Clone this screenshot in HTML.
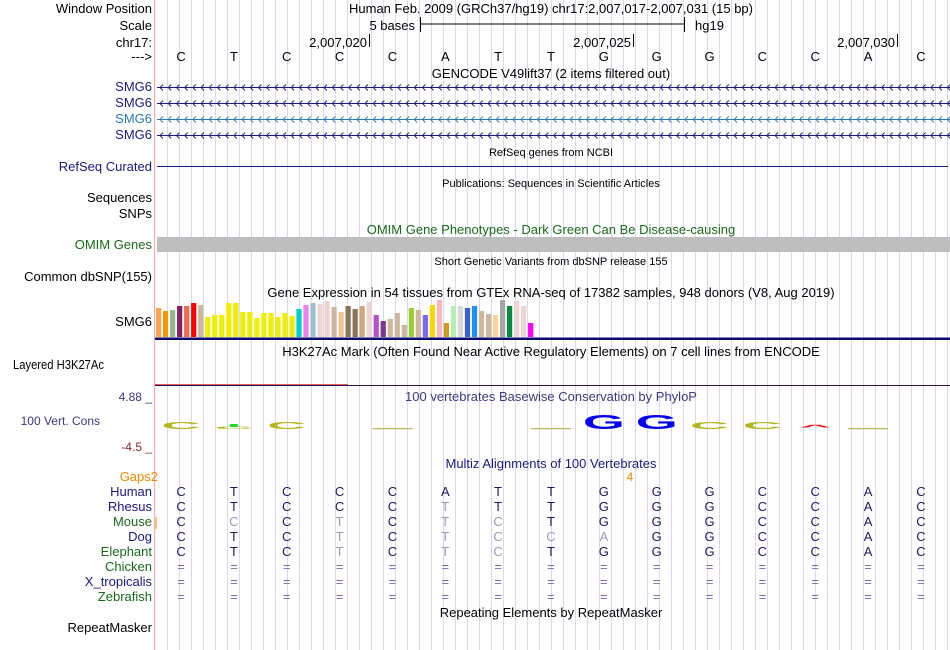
<!DOCTYPE html>
<html><head><meta charset="utf-8"><style>
html,body{margin:0;padding:0;background:#fff;width:950px;height:650px;overflow:hidden}
svg{display:block;font-family:"Liberation Sans",sans-serif}
</style></head><body>
<svg id="ucsc" width="950" height="650" viewBox="0 0 950 650">
<g id="grid"></g>
<line x1="154.5" y1="0" x2="154.5" y2="650" stroke="#ffaaaa"/>
<g font-size="13" text-anchor="end" fill="#000">
<text x="152" y="13">Window Position</text>
<text x="152" y="30">Scale</text>
<text x="152" y="47">chr17:</text>
<text x="152" y="61">---&gt;</text>
<text x="152" y="91" fill="#1a1a80">SMG6</text>
<text x="152" y="107" fill="#1a1a80">SMG6</text>
<text x="152" y="123" fill="#2a7ab5">SMG6</text>
<text x="152" y="139" fill="#1a1a80">SMG6</text>
<text x="152" y="171" fill="#1a1a80">RefSeq Curated</text>
<text x="152" y="202">Sequences</text>
<text x="152" y="218">SNPs</text>
<text x="152" y="249" fill="#1a6a1a">OMIM Genes</text>
<text x="152" y="281">Common dbSNP(155)</text>
<text x="152" y="326">SMG6</text>
<text x="13" y="369" text-anchor="start" textLength="91" lengthAdjust="spacingAndGlyphs">Layered H3K27Ac</text>
<text x="100" y="425" fill="#3a3a80" font-size="12">100 Vert. Cons</text>
<text x="152" y="401" fill="#3a3a80" font-size="12">4.88 _</text>
<text x="152" y="451" fill="#8a2a2a" font-size="12">-4.5 _</text>
<text x="158" y="481" fill="#ee8800">Gaps2</text>
<text x="152" y="496" fill="#1a1a80">Human</text>
<text x="152" y="511" fill="#1a1a80">Rhesus</text>
<text x="152" y="526" fill="#1a6a1a">Mouse</text>
<text x="152" y="541" fill="#1a1a80">Dog</text>
<text x="152" y="556" fill="#1a6a1a">Elephant</text>
<text x="152" y="571" fill="#1a6a1a">Chicken</text>
<text x="152" y="586" fill="#1a1a80">X_tropicalis</text>
<text x="152" y="601" fill="#1a6a1a">Zebrafish</text>
<text x="152" y="632">RepeatMasker</text>
</g>
<line x1="156" y1="517" x2="156" y2="529" stroke="#ee8800"/>
<g font-size="13" fill="#000">
<text x="349" y="13">Human Feb. 2009 (GRCh37/hg19)   chr17:2,007,017-2,007,031 (15 bp)</text>
<text x="415" y="30" text-anchor="end">5 bases</text>
<line x1="420" y1="24" x2="684" y2="24" stroke="#000"/>
<line x1="420.5" y1="17" x2="420.5" y2="32" stroke="#000"/>
<line x1="684.5" y1="17" x2="684.5" y2="32" stroke="#000"/>
<text x="695" y="30">hg19</text>
<text x="367" y="47" text-anchor="end">2,007,020</text>
<line x1="369.5" y1="34" x2="369.5" y2="47" stroke="#000"/>
<text x="631" y="47" text-anchor="end">2,007,025</text>
<line x1="633.5" y1="34" x2="633.5" y2="47" stroke="#000"/>
<text x="895" y="47" text-anchor="end">2,007,030</text>
<line x1="897.5" y1="34" x2="897.5" y2="47" stroke="#000"/>
</g>
<g id="bases" font-size="13" text-anchor="middle"></g>
<g font-size="13" text-anchor="middle" fill="#000">
<text x="551" y="78">GENCODE V49lift37 (2 items filtered out)</text>
<text x="551" y="156" font-size="11">RefSeq genes from NCBI</text>
<text x="551" y="187" font-size="11">Publications: Sequences in Scientific Articles</text>
<text x="551" y="234" fill="#1a6a1a">OMIM Gene Phenotypes - Dark Green Can Be Disease-causing</text>
<text x="551" y="265" font-size="11">Short Genetic Variants from dbSNP release 155</text>
<text x="551" y="297">Gene Expression in 54 tissues from GTEx RNA-seq of 17382 samples, 948 donors (V8, Aug 2019)</text>
<text x="551" y="356">H3K27Ac Mark (Often Found Near Active Regulatory Elements) on 7 cell lines from ENCODE</text>
<text x="551" y="401" fill="#3a3a80">100 vertebrates Basewise Conservation by PhyloP</text>
<text x="551" y="468" fill="#1a1a80">Multiz Alignments of 100 Vertebrates</text>
<text x="551" y="617">Repeating Elements by RepeatMasker</text>
<text x="630" y="481" fill="#ee8800" font-size="12">4</text>
</g>
<g id="genes"></g>
<line x1="157" y1="166.5" x2="948" y2="166.5" stroke="#1a1a80"/>
<rect x="157" y="237" width="793" height="15" fill="#bebebe"/>
<g id="gtex"></g>
<rect x="155" y="337.5" width="795" height="2.5" fill="#0a0a70"/>
<line x1="155" y1="384.5" x2="348" y2="384.5" stroke="#ee5555"/>
<line x1="155" y1="385.5" x2="950" y2="385.5" stroke="#1a1a50"/>
<g id="phylop"></g>
<g id="multiz" font-size="13" text-anchor="middle"></g>
<script>
const NS="http://www.w3.org/2000/svg";
function mk(tag,attrs,parent){const e=document.createElementNS(NS,tag);for(const k in attrs)e.setAttribute(k,attrs[k]);parent.appendChild(e);return e;}
const refBases=["C","T","C","C","C","A","T","T","G","G","G","C","C","A","C"];
const species=["Human","Rhesus","Mouse","Dog","Elephant","Chicken","X_tropicalis","Zebrafish"];
const alignSeqs=["CTCCCATTGGGCCAC","CTCCCTTTGGGCCAC","CCCTCTCTGGGCCAC","CTCTCTCCAGGCCAC","CTCTCTCTGGGCCAC","===============","===============","==============="];
const gtexValues=[29,26,27,31,31,34,32,20,22,22,34,34,25,25,19,24,24,20,24,21,28,32,34,33,36,30,25,31,28,31,35,22,16,18,24,12,29,27,22,32,37,14,31,31,29,31,26,23,22,37,31,36,31,14];
const gtexColors=["#ffa54f","#ee9a00","#8fbc8f","#8b1c62","#ee6a50","#ff0000","#cdb79e","#eeee00","#eeee00","#eeee00","#eeee00","#eeee00","#eeee00","#eeee00","#eeee00","#eeee00","#eeee00","#eeee00","#eeee00","#eeee00","#00cdcd","#ee82ee","#9ac0cd","#eed5d2","#eed5d2","#cdb79e","#eec591","#8b7355","#8b7355","#cdaa7d","#eed5d2","#b452cd","#7a378b","#cdb79e","#cdb79e","#cdb79e","#9acd32","#cdb79e","#7b68ee","#ffd700","#ffb6c1","#cd9b1d","#b4eeb4","#d9d9d9","#3a5fcd","#1e90ff","#cdb79e","#cdb79e","#ffd39b","#a6a6a6","#008b45","#eed5d2","#eed5d2","#ff00ff"];
const phylopBases=["C","C","C","","-","","","-","G","G","C","C","A","-",""];
const phylopScores=[0.8,0.3,0.8,0,0.1,0,0,0.1,1.6,1.6,0.8,0.8,0.5,0.1,0];
const X0=154.6,BW=52.85;
function xBase(i){return X0+BW*(i+0.5);}
function yPhy(v){return 429-v*9;}
const grid=document.getElementById('grid');
for(let x=167.5;x<950;x+=12){const l=mk('line',{x1:x,y1:0,x2:x,y2:650,stroke:'#d8d8f2'},grid);

}
const bases=document.getElementById('bases');
refBases.forEach((b,i)=>{const t=mk('text',{x:xBase(i),y:61},bases);t.textContent=b;

});
const genes=document.getElementById('genes');
[[87,'#1a1a80'],[103,'#1a1a80'],[119,'#2a7ab5'],[135,'#1a1a80']].forEach((g,k)=>{
 const grp=mk('g',{},genes);
 
 
 mk('line',{x1:157,y1:g[0]+0.5,x2:950,y2:g[0]+0.5,stroke:g[1]},grp);
 let d='';for(let x=160;x<950;x+=8.2){d+=`M${x+3},${g[0]-2.5}L${x},${g[0]+0.5}L${x+3},${g[0]+3.5}`;}
 mk('path',{d:d,stroke:g[1],fill:'none','stroke-width':0.9},grp);
});
const gtex=document.getElementById('gtex');
gtexValues.forEach((v,i)=>{const r=mk('rect',{x:156+i*7.02,y:337-v,width:5.2,height:v,fill:gtexColors[i]},gtex);

});
const ph=document.getElementById('phylop');
const pcol={C:'#b5b520',G:'#0000ee',A:'#ee0000','-':'#b5b560'};
phylopBases.forEach((b,i)=>{if(!b)return;const s=phylopScores[i];const cx=xBase(i);
 let t;
 if(b==='-'){t=mk('rect',{x:cx-20,y:428,width:40,height:1.2,fill:pcol['-']},ph);}
 else{t=mk('text',{x:0,y:0,'font-size':40,'font-weight':'bold','text-anchor':'middle',fill:pcol[b],transform:`translate(${cx},${yPhy(0)}) scale(1.35,${(s*9/29).toFixed(3)})`},ph);t.textContent=b==='A'?'^':b;}
 
 });
const g2=mk('rect',{x:xBase(1)-4,y:424,width:8,height:3,fill:'#22dd22'},ph);


const mz=document.getElementById('multiz');
alignSeqs.forEach((seq,r)=>{const y=496+r*15;
 for(let i=0;i<15;i++){const c=seq[i];const t=mk('text',{x:xBase(i),y:y},mz);t.textContent=c;
  let col='#1a1a60';if(c==='=')col='#7070b0';else if(r>0&&c!==refBases[i])col='#9a9ac0';
  t.setAttribute('fill',col);
  
  }
});
</script>
</svg>
</body></html>
